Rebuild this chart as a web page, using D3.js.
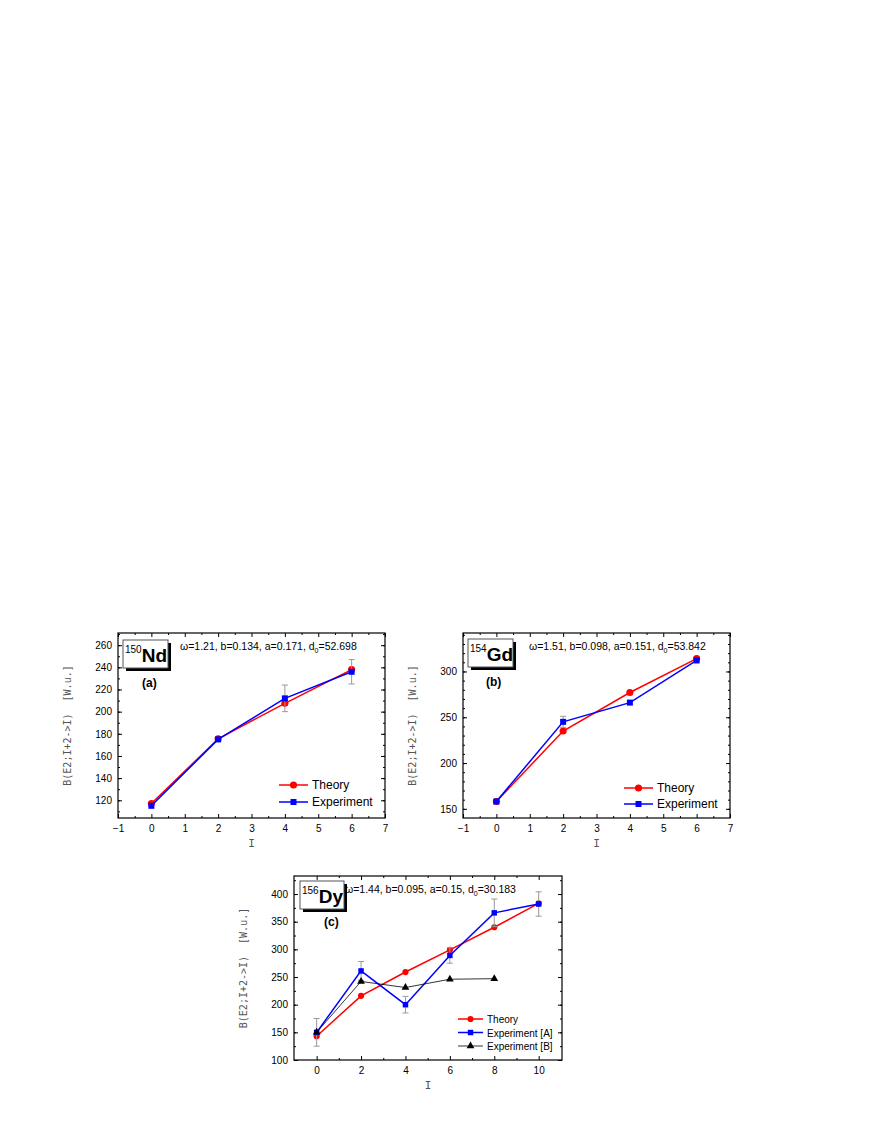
<!DOCTYPE html>
<html><head><meta charset="utf-8">
<script src="https://cdn.jsdelivr.net/npm/d3@7"></script>
<style>body{margin:0;background:#fff}</style></head>
<body><svg id="c" width="872" height="1128"></svg>
<script>
const spinA=[0,2,4,6];
const thA=[117,175.5,207.5,238];
const exA=[115,175,212,236];
const erA=[0,0,12,11];
const spinB=[0,2,4,6];
const thB=[158,235,277,314];
const exB=[158,245,266,312];
const erB=[0,6,0,0];
const spinC=[0,2,4,6,8,10];
const thC=[143,216,259,299,340,383];
const exCA=[150,261,200,289,366,382];
const erCA=[25,17,15,14,25,22];
const spinCB=[0,2,4,6,8];
const exCB=[150,242,231,246,247];

const svg=d3.select("#c");
const F="Liberation Sans, Arial, sans-serif";
function panel(o){
  const g=svg.append("g");
  const x=d3.scaleLinear().domain(o.xd).range([o.L,o.R]);
  const y=d3.scaleLinear().domain(o.yd).range([o.B,o.T]);
  const ax=(a,tr)=>g.append("g").attr("transform",tr).call(a).call(s=>{s.select(".domain").remove();s.selectAll("text").attr("font-family",F).attr("font-size",10);});
  // major ticks
  ax(d3.axisBottom(x).tickValues(o.xt).tickSizeInner(-4).tickSizeOuter(0).tickPadding(7),`translate(0,${o.B})`);
  ax(d3.axisTop(x).tickValues(o.xt).tickSizeInner(-4).tickSizeOuter(0).tickFormat(""),`translate(0,${o.T})`);
  ax(d3.axisLeft(y).tickValues(o.yt).tickSizeInner(-4).tickSizeOuter(0).tickPadding(6),`translate(${o.L},0)`);
  ax(d3.axisRight(y).tickValues(o.yt).tickSizeInner(-4).tickSizeOuter(0).tickFormat(""),`translate(${o.R},0)`);
  // minor ticks
  ax(d3.axisBottom(x).tickValues(o.xm).tickSizeInner(-2).tickSizeOuter(0).tickFormat(""),`translate(0,${o.B})`);
  ax(d3.axisTop(x).tickValues(o.xm).tickSizeInner(-2).tickSizeOuter(0).tickFormat(""),`translate(0,${o.T})`);
  ax(d3.axisLeft(y).tickValues(o.ym).tickSizeInner(-2).tickSizeOuter(0).tickFormat(""),`translate(${o.L},0)`);
  ax(d3.axisRight(y).tickValues(o.ym).tickSizeInner(-2).tickSizeOuter(0).tickFormat(""),`translate(${o.R},0)`);
  g.append("rect").attr("x",o.L).attr("y",o.T).attr("width",o.R-o.L).attr("height",o.B-o.T).attr("fill","none").attr("stroke","#000").attr("stroke-width",1.2);
  // labels
  g.append("text").attr("transform",`translate(${o.L-47},${(o.T+o.B)/2}) rotate(-90)`).attr("text-anchor","middle")
   .attr("font-family","DejaVu Sans Mono, monospace").attr("font-size",10).attr("fill","#555").attr("xml:space","preserve").text("B(E2;I+2->I)  [W.u.]");
  g.append("text").attr("x",(o.L+o.R)/2).attr("y",o.B+29).attr("text-anchor","middle").attr("font-family","DejaVu Sans Mono, monospace").attr("font-size",11).attr("fill","#555").text("I");
  // isotope box
  const b=o.box;
  g.append("rect").attr("x",b[0]+3).attr("y",b[1]+3).attr("width",b[2]).attr("height",b[3]).attr("fill","#000");
  g.append("rect").attr("x",b[0]).attr("y",b[1]).attr("width",b[2]).attr("height",b[3]).attr("fill","#fff").attr("stroke","#555");
  const t=g.append("text").attr("x",b[0]+2).attr("y",b[1]+b[3]-6).attr("font-family",F).attr("font-weight","bold").attr("font-size",19);
  t.append("tspan").attr("font-size",10).attr("font-weight","normal").attr("dy",-9).text(o.mass);
  t.append("tspan").attr("dy",9).text(o.el);
  const p=g.append("text").attr("x",o.px).attr("y",o.py).attr("font-family",F).attr("font-size",10.5).text(o.par+", d");
  p.append("tspan").attr("font-size",7).attr("dy",3).text("0");
  p.append("tspan").attr("dy",-3).text("="+o.d0);
  g.append("text").attr("x",o.lx).attr("y",o.ly).attr("font-family",F).attr("font-weight","bold").attr("font-size",12).text(o.lab);
  // series
  o.series.forEach((s,i)=>{
    const pts=s.xs.map((v,j)=>[v,s.ys[j],s.er?s.er[j]:0]);
    pts.forEach(d=>{ if(d[2]>0){
      g.append("line").attr("x1",x(d[0])).attr("x2",x(d[0])).attr("y1",y(d[1]-d[2])).attr("y2",y(d[1]+d[2])).attr("stroke","#999");
      [d[1]-d[2],d[1]+d[2]].forEach(v=>g.append("line").attr("x1",x(d[0])-3).attr("x2",x(d[0])+3).attr("y1",y(v)).attr("y2",y(v)).attr("stroke","#999"));
    }});
    g.append("path").attr("d",d3.line().x(d=>x(d[0])).y(d=>y(d[1]))(pts)).attr("fill","none").attr("stroke",s.c).attr("stroke-width",s.w);
    const sym=d3.symbol().type(s.sym).size(s.sz);
    pts.forEach(d=>g.append("path").attr("d",sym()).attr("transform",`translate(${x(d[0])},${y(d[1])})`).attr("fill",s.c));
    const ly=o.leg[1]+i*o.leg[3];
    g.append("line").attr("x1",o.leg[0]).attr("x2",o.leg[0]+o.leg[2]).attr("y1",ly).attr("y2",ly).attr("stroke",s.c).attr("stroke-width",s.w);
    g.append("path").attr("d",sym()).attr("transform",`translate(${o.leg[0]+o.leg[2]/2},${ly})`).attr("fill",s.c);
    g.append("text").attr("x",o.leg[0]+o.leg[2]+4).attr("y",ly+4).attr("font-family",F).attr("font-size",o.leg[4]).text(s.name);
  });
}
const r=d3.range;
panel({L:118,R:385,T:633,B:818,xd:[-1,7],yd:[104,271],xt:r(-1,8,1),xm:r(-0.5,7,1),yt:r(120,261,20),ym:r(110,271,10),
  box:[123,640,45,28],mass:"150",el:"Nd",par:"ω=1.21, b=0.134, a=0.171",d0:"52.698",px:180,py:650,lab:"(a)",lx:142,ly:687,
  leg:[279,785,29,17,12],
  series:[{name:"Theory",xs:spinA,ys:thA,c:"#f00",w:1.5,sym:d3.symbolCircle,sz:40},
          {name:"Experiment",xs:spinA,ys:exA,er:erA,c:"#00f",w:1.5,sym:d3.symbolSquare,sz:36}]});
panel({L:463,R:730,T:633,B:818,xd:[-1,7],yd:[140,342],xt:r(-1,8,1),xm:r(-0.5,7,1),yt:[150,200,250,300],ym:r(150,341,10),
  box:[468,639,45,28],mass:"154",el:"Gd",par:"ω=1.51, b=0.098, a=0.151",d0:"53.842",px:529,py:650,lab:"(b)",lx:486,ly:686,
  leg:[624,788,29,16,12],
  series:[{name:"Theory",xs:spinB,ys:thB,c:"#f00",w:1.5,sym:d3.symbolCircle,sz:40},
          {name:"Experiment",xs:spinB,ys:exB,er:erB,c:"#00f",w:1.5,sym:d3.symbolSquare,sz:36}]});
panel({L:294,R:562,T:876,B:1060,xd:[-1.02,11.05],yd:[100,432.6],xt:r(0,11,2),xm:r(1,11,2),yt:r(100,401,50),ym:r(125,430,25),
  box:[300,881,44,28],mass:"156",el:"Dy",par:"ω=1.44, b=0.095, a=0.15",d0:"30.183",px:345,py:893,lab:"(c)",lx:324,ly:926,
  leg:[458,1019,25,13.5,10],
  series:[{name:"Theory",xs:spinC,ys:thC,c:"#f00",w:1.5,sym:d3.symbolCircle,sz:30},
          {name:"Experiment [A]",xs:spinC,ys:exCA,er:erCA,c:"#00f",w:1.5,sym:d3.symbolSquare,sz:30},
          {name:"Experiment [B]",xs:spinCB,ys:exCB,c:"#000",w:0.8,sym:d3.symbolTriangle,sz:26}]});
</script></body></html>
